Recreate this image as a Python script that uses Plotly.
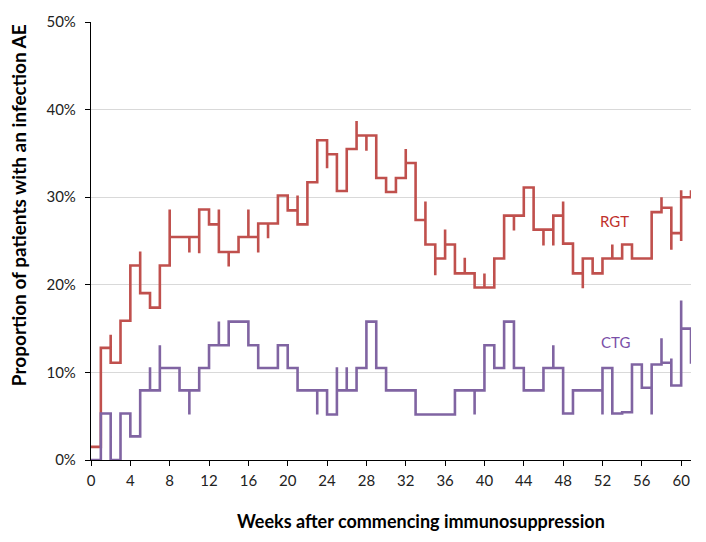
import plotly.graph_objects as go

# Weekly step values (%), weeks 0..61 (value at 61 is the final end mark)
weeks = list(range(0, 62))
rgt_values = [1.5, 12.8, 11.1, 15.9, 22.2, 19.05, 17.4, 22.2, 25.45, 25.45,
              25.45, 28.6, 26.9, 23.75, 23.75, 25.45, 25.45, 27.0, 27.0, 30.2,
              28.5, 26.9, 31.7, 36.5, 34.9, 30.7, 35.5, 37.05, 37.05, 32.2,
              30.6, 32.2, 33.9, 27.4, 24.6, 23.0, 24.6, 21.3, 21.3, 19.7,
              19.7, 23.0, 27.9, 27.9, 31.1, 26.3, 26.3, 27.9, 24.7, 21.3,
              23.0, 21.3, 23.0, 23.0, 24.6, 23.0, 23.0, 28.3, 28.8, 25.9,
              30.0, 30.8]
# spikes at week boundaries: intermediate values reached before settling
rgt_spikes = {2: [14.3], 5: [23.8], 8: [28.6], 10: [23.7], 11: [23.6],
              13: [28.6], 14: [22.1], 16: [28.6], 17: [23.7], 18: [25.3],
              21: [30.2], 24: [33.3], 27: [38.7], 28: [35.3], 32: [35.5],
              34: [29.5], 35: [21.1], 36: [26.3], 38: [23.1], 40: [21.3],
              43: [26.2], 46: [24.5], 47: [24.5], 48: [29.5], 50: [19.6],
              53: [24.6], 58: [30.0], 59: [24.0], 60: [25.0, 30.8]}

ctg_values = [0.0, 5.3, 0.0, 5.3, 2.7, 7.95, 7.95, 10.5, 10.5, 7.95,
              7.95, 10.5, 13.1, 13.1, 15.8, 15.8, 13.1, 10.5, 10.5, 13.1,
              10.5, 7.95, 7.95, 7.95, 5.2, 7.95, 7.95, 10.5, 15.8, 10.5,
              7.95, 7.95, 7.95, 5.2, 5.2, 5.2, 5.2, 7.95, 7.95, 7.95,
              13.1, 10.5, 15.8, 10.5, 7.95, 7.95, 10.5, 10.5, 5.3, 7.95,
              7.95, 7.95, 10.5, 5.3, 5.45, 10.9, 8.25, 10.9, 11.1, 8.5,
              15.0, 11.0]
ctg_spikes = {6: [10.6], 7: [13.1], 10: [5.2], 13: [15.8], 23: [5.2],
              25: [10.6], 26: [10.6], 39: [5.2], 47: [13.1], 52: [5.2],
              57: [5.2], 58: [13.9], 59: [11.6], 60: [18.2]}

x_ticks = list(range(0, 61, 4))
y_ticks = [0, 10, 20, 30, 40, 50]
y_tick_labels = ["0%", "10%", "20%", "30%", "40%", "50%"]

RED = "#C0504D"
PURPLE = "#8064A2"


def build_path(vals, spikes):
    xs, ys = [], []
    for k, v in zip(weeks, vals):
        for s in spikes.get(k, []):
            xs.append(k)
            ys.append(s)
        xs.append(k)
        ys.append(v)
    return xs, ys


fig = go.Figure()
for vals, spikes, col, name in [(rgt_values, rgt_spikes, RED, "RGT"),
                                (ctg_values, ctg_spikes, PURPLE, "CTG")]:
    xs, ys = build_path(vals, spikes)
    fig.add_trace(go.Scatter(x=xs, y=ys, mode="lines", name=name,
                             line=dict(color=col, width=2.6, shape="hv")))

FONT = "Lato, Open Sans, sans-serif"
fig.update_layout(
    width=706, height=542,
    margin=dict(l=91, r=15, t=20, b=82),
    paper_bgcolor="white", plot_bgcolor="white",
    showlegend=False,
    font=dict(family=FONT, size=15, color="#222"),
    xaxis=dict(range=[0, 61], tickvals=x_ticks, ticks="outside", ticklen=5,
               tickcolor="black", showline=True, linecolor="black", linewidth=1.2,
               showgrid=False, zeroline=False, tickfont=dict(size=15),
               ticklabelstandoff=2),
    yaxis=dict(range=[0, 50], tickvals=y_ticks, ticktext=y_tick_labels,
               ticks="outside", ticklen=5, tickcolor="black", showline=True,
               linecolor="black", linewidth=1.2, showgrid=True,
               gridcolor="#D9D9D9", gridwidth=1, zeroline=False,
               tickfont=dict(size=15), ticklabelstandoff=6),
    annotations=[
        dict(text="RGT", x=53.2, y=27.3, xref="x", yref="y", showarrow=False,
             font=dict(size=15, color="#C0302B")),
        dict(text="CTG", x=53.3, y=13.5, xref="x", yref="y", showarrow=False,
             font=dict(size=15, color="#7A4FA8")),
        dict(text="<b>Weeks after commencing immunosuppression</b>", x=421, y=521,
             xref="paper", yref="paper", showarrow=False,
             font=dict(size=18, color="black")),
        dict(text="<b>Proportion of patients with an infection AE</b>", x=18, y=204,
             xref="paper", yref="paper", showarrow=False, textangle=-90,
             font=dict(size=19, color="black")),
    ],
)
# convert pixel positions of titles into paper coordinates
pw, ph = 706 - 91 - 15, 542 - 20 - 82
for a in fig.layout.annotations[2:]:
    a.x = (a.x - 91) / pw
    a.y = 1 - (a.y - 20) / ph
    a.xanchor = "center"
    a.yanchor = "middle"

fig.write_html("out.html", config={"displayModeBar": False},
               post_script="document.body.style.margin='0';")
